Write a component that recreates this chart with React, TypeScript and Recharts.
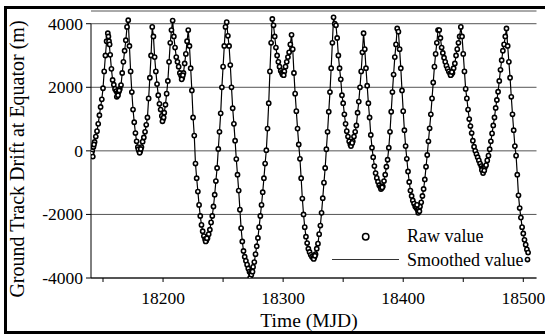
import { ComposedChart, Line, Scatter, XAxis, YAxis, CartesianGrid, ReferenceLine } from 'recharts';

// daily drift values (m), first day MJD 18140
const START_MJD = 18140;

const drift1 = [
    20, 0, 120, 280, 450, 620, 850, 1120, 1380, 1620,
    1970, 2500, 3000, 3450, 3700, 3450, 3020, 2580, 2230, 2080,
    1950, 1880, 1820, 1850, 1950, 2070, 2450, 2800, 3150, 3480,
    3900, 4110, 3300, 2500, 1850, 1300, 900, 560, 300, 120,
    0, -10, 120, 290, 420, 600, 820, 1050, 1650, 2300,
    3000, 3900, 3600, 2950, 2500, 2100, 1750, 1480, 1300, 1100,
];
const drift2 = [
    1000, 1200, 1450, 1800, 2200, 2800, 3400, 3800, 4100, 3600,
    3250, 2950, 2800, 2650, 2450, 2370, 2300, 2450, 2750, 3050,
    3450, 3800, 3300, 2600, 1900, 1050, 480, -400, -860, -1280,
    -1700, -2050, -2330, -2530, -2680, -2780, -2820, -2750, -2620, -2480,
    -2250, -2050, -1750, -1380, -950, -540, 60, 600, 1180, 2000,
    2650, 3300, 3900, 4050, 3620, 3300, 2700, 2000, 1340, 850,
];
const drift3 = [
    320, -260, -750, -1250, -1850, -2430, -2850, -3150, -3330, -3460,
    -3580, -3700, -3800, -3850, -3780, -3650, -3500, -3250, -3000, -2740,
    -2400, -2050, -1700, -1300, -860, -400, 20, 700, 1500, 2500,
    3400, 4150, 3950, 3600, 3250, 3000, 2800, 2650, 2520, 2460,
    2440, 2500, 2650, 2800, 2950, 3100, 3350, 3650, 3200, 2450,
    1800, 1250, 700, 200, -250, -860, -1500, -2000, -2400, -2700,
];
const drift4 = [
    -2900, -3080, -3180, -3270, -3330, -3370, -3350, -3250, -3080, -2920,
    -2620, -2350, -1950, -1490, -1000, -540, 50, 600, 1230, 1850,
    2600, 3400, 4200, 4000, 3950, 3550, 3000, 2600, 2250, 1750,
    1500, 1150, 850, 620, 450, 300, 200, 220, 300, 450,
    600, 800, 1200, 1550, 2000, 2500, 3100, 3700, 3200, 2600,
    2050, 1500, 1050, 500, 100, -200, -480, -700, -850, -970,
];
const drift5 = [
    -1080, -1140, -1170, -1120, -950, -750, -500, -280, 100, 600,
    1230, 1850, 2400, 2950, 3350, 3850, 3750, 3200, 2600, 1900,
    1250, 650, 150, -250, -650, -980, -1250, -1420, -1560, -1660,
    -1750, -1800, -1850, -1830, -1750, -1620, -1420, -1200, -900, -500,
    -130, 300, 710, 1150, 1650, 2150, 2650, 3050, 3400, 3800,
    3800, 3550, 3250, 3080, 2930, 2800, 2680, 2580, 2500, 2440,
];
const drift6 = [
    2400, 2450, 2600, 2750, 3000, 3200, 3400, 3600, 3900, 3600,
    3050, 2500, 1950, 1650, 1300, 1000, 780, 560, 320, 130,
    0, -100, -200, -300, -400, -480, -540, -560, -520, -450,
    -300, -150, 50, 300, 550, 800, 1050, 1350, 1600, 1860,
    2200, 2550, 2850, 3150, 3350, 3600, 3850, 3300, 2800, 2300,
    1700, 1150, 650, 150, -150, -750, -1400, -1800, -2100, -2400,
    -2600, -2800, -2950, -3100, -3200,
];

// raw samples that sit off the smoothed curve
const rawExtra: [number, number][] = [
    [18140.5, -80], [18141.5, -180], [18142.5, 200], [18154.5, 3600], [18155.5, 3350],
    [18161.5, 1700], [18162.5, 1750], [18163.5, 1900], [18179.5, 50], [18180.5, -60],
    [18181.5, 60], [18199.5, 930], [18200.5, 1050], [18215.5, 2250], [18216.5, 2380],
    [18235.5, -2850], [18236.5, -2750], [18272.5, -4000], [18273.5, -3900], [18274.5, -3800],
    [18299.5, 2400], [18300.5, 2380], [18325.5, -3400], [18326.5, -3300], [18356.5, 150],
    [18357.5, 250], [18381.5, -1200], [18382.5, -1150], [18411.5, -1700], [18412.5, -1950],
    [18413.5, -1900], [18439.5, 2380], [18440.5, 2480], [18465.5, -600], [18466.5, -700],
    [18467.5, -620], [18503.5, -3420],
];

const xTicks = [18150, 18200, 18250, 18300, 18350, 18400, 18450, 18500];
const yTicks = [-4000, -2000, 0, 2000, 4000];

const smoothData = [...drift1, ...drift2, ...drift3, ...drift4, ...drift5, ...drift6]
    .map((v, i) => ({ mjd: START_MJD + i, drift: v }));
const rawData = [...smoothData, ...rawExtra.map(([mjd, drift]) => ({ mjd, drift }))];

const FONT = 'Liberation Serif, Times New Roman, serif';

function RawDot(props: any) {
    const { cx, cy } = props;
    if (cx == null || cy == null) return null;
    return <circle cx={cx} cy={cy} r={2.1} fill="#fff" stroke="#000" strokeWidth={1.6} />;
}

// only the hundreds get a label, the 50s are bare ticks
function XTick({ x, y, payload }: any) {
    if (payload.value % 100 !== 0) return <g />;
    return (
        <text x={x} y={y} dy={15.5} textAnchor="middle" fontSize={17.5} fontFamily={FONT} fill="#000">
            {payload.value}
        </text>
    );
}

function YTick({ x, y, payload }: any) {
    return (
        <text x={x} y={y} dy={6} textAnchor="end" fontSize={17.5} fontFamily={FONT} fill="#000">
            {payload.value}
        </text>
    );
}

export default function App() {
    return (
        <div style={{ position: 'fixed', left: 0, top: 0, width: 545, height: 334, overflow: 'hidden', background: '#fff', fontFamily: FONT }}>
            <div style={{ position: 'absolute', left: 4, top: 6, width: 600, height: 328, border: '3px solid #000', boxSizing: 'border-box' }} />

            <div style={{ position: 'absolute', left: 0, top: 0 }}>
                <ComposedChart width={545} height={334} margin={{ top: 11, right: 8.5, left: 0, bottom: 26 }}>
                    <CartesianGrid vertical={false} stroke="#555" />
                    <XAxis
                        dataKey="mjd"
                        type="number"
                        domain={[18140, 18511]}
                        ticks={xTicks}
                        tick={<XTick />}
                        tickSize={4}
                        tickMargin={6}
                        axisLine={{ stroke: '#000' }}
                        tickLine={{ stroke: '#000' }}
                        height={30}
                        allowDataOverflow
                    />
                    <YAxis
                        type="number"
                        domain={[-4000, 4400]}
                        ticks={yTicks}
                        tick={<YTick />}
                        tickSize={5}
                        tickMargin={3}
                        axisLine={false}
                        tickLine={{ stroke: '#000' }}
                        width={91}
                        allowDataOverflow
                    />
                    <ReferenceLine segment={[{ x: 18140, y: -4000 }, { x: 18140, y: 4000 }]} stroke="#000" />
                    <Line
                        data={smoothData}
                        type="linear"
                        dataKey="drift"
                        stroke="#000"
                        strokeWidth={1.2}
                        dot={false}
                        activeDot={false}
                        isAnimationActive={false}
                    />
                    <Scatter data={rawData} dataKey="drift" shape={<RawDot />} isAnimationActive={false} />
                </ComposedChart>
            </div>

            <svg width={545} height={334} style={{ position: 'absolute', left: 0, top: 0, pointerEvents: 'none' }}>
                <circle cx={365.7} cy={236.7} r={3.2} fill="#fff" stroke="#000" strokeWidth={1.5} />
                <text x={407} y={242} fontSize={18} fontFamily={FONT} fill="#000">Raw value</text>
                <line x1={332} y1={259.5} x2={399} y2={259.5} stroke="#333" strokeWidth={1} />
                <text x={407} y={266} fontSize={18} fontFamily={FONT} fill="#000">Smoothed value</text>
            </svg>

            <div style={{ position: 'absolute', left: 17, top: 159, transform: 'translate(-50%, -50%) rotate(-90deg)', whiteSpace: 'nowrap', fontSize: 20, lineHeight: 1 }}>
                Ground Track Drift at Equator (m)
            </div>
            <div style={{ position: 'absolute', left: 309, top: 321, transform: 'translate(-50%, -50%)', whiteSpace: 'nowrap', fontSize: 19.5, lineHeight: 1 }}>
                Time (MJD)
            </div>
        </div>
    );
}
